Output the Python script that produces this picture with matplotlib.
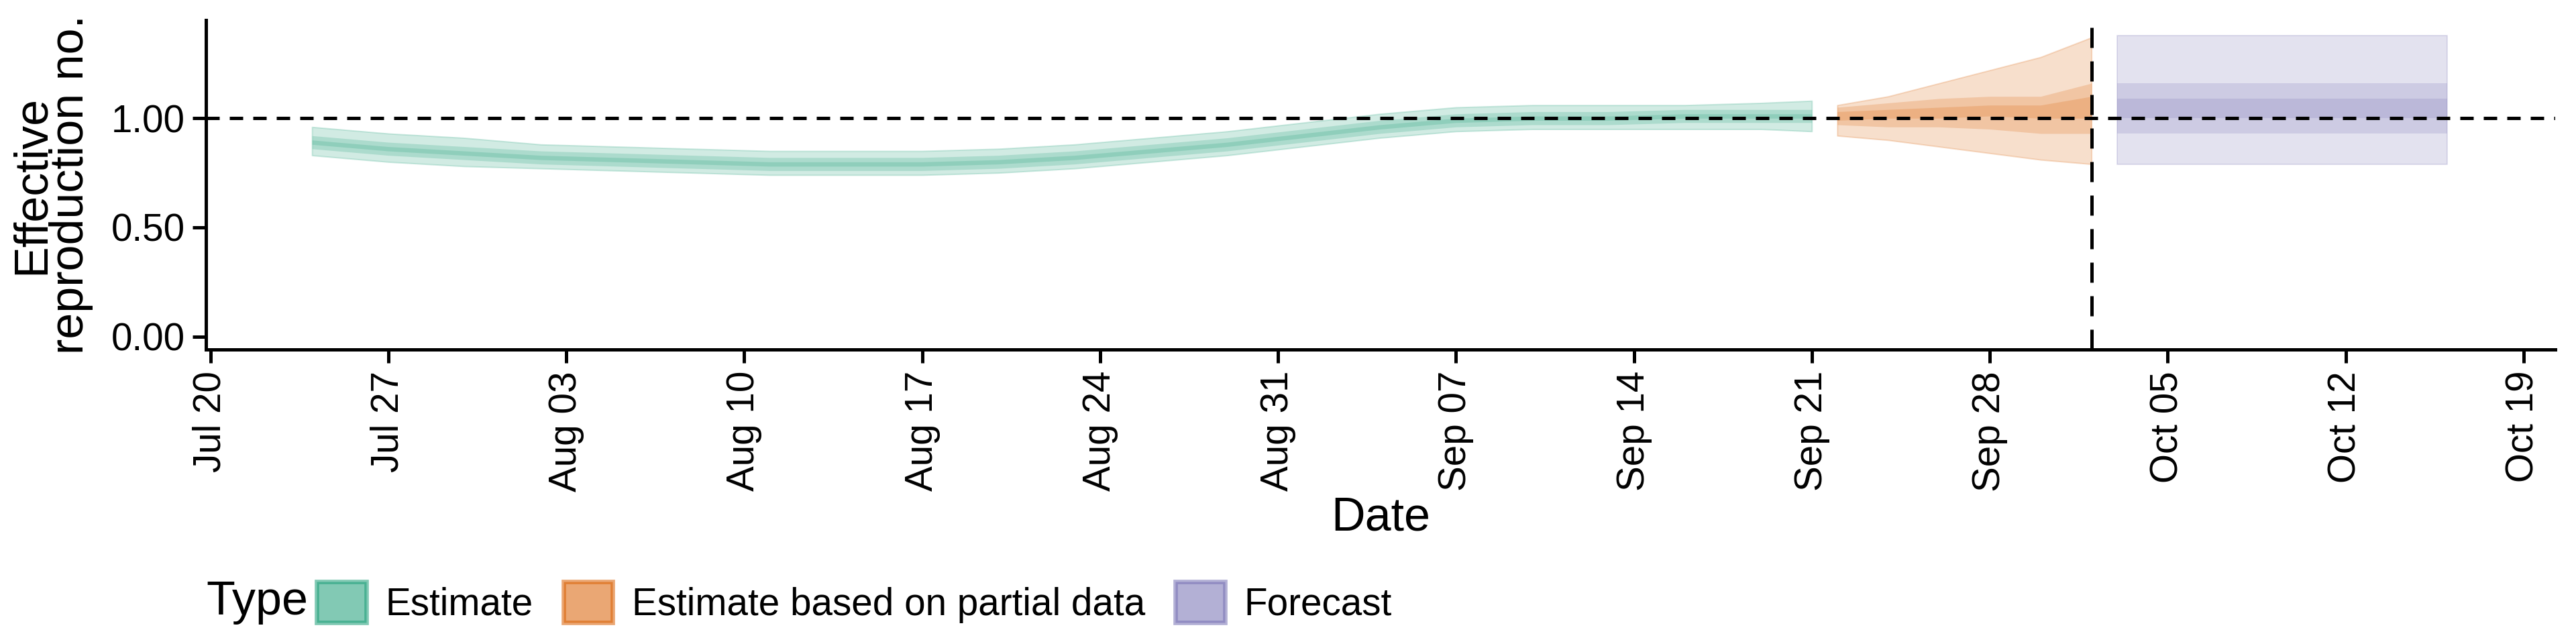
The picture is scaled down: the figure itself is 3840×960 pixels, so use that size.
import numpy as np
import pandas as pd
import matplotlib
matplotlib.use("Agg")
import matplotlib.pyplot as plt
import matplotlib.dates as mdates
from matplotlib.patches import Patch

plt.rcParams['font.family'] = ['Liberation Sans', 'DejaVu Sans']

# Estimate (green)
est_dates = pd.to_datetime(["2020-07-24", "2020-07-27", "2020-07-30", "2020-08-02", "2020-08-05",
                            "2020-08-08", "2020-08-11", "2020-08-14", "2020-08-17", "2020-08-20",
                            "2020-08-23", "2020-08-26", "2020-08-29", "2020-09-01", "2020-09-04",
                            "2020-09-07", "2020-09-10", "2020-09-13", "2020-09-16", "2020-09-19",
                            "2020-09-21"])
est_lo90 = [.83, .80, .78, .77, .76, .75, .74, .74, .74, .75, .77, .80, .83, .87, .91, .94, .95, .95, .95, .95, .94]
est_hi90 = [.96, .93, .91, .88, .87, .86, .85, .85, .85, .86, .88, .91, .94, .98, 1.02, 1.05, 1.06, 1.06, 1.06, 1.07, 1.08]
est_lo50 = [.86, .83, .81, .79, .78, .77, .76, .76, .76, .77, .79, .82, .85, .89, .93, .96, .97, .97, .98, .98, .98]
est_hi50 = [.92, .89, .87, .85, .84, .83, .82, .82, .82, .83, .85, .88, .91, .95, .99, 1.02, 1.03, 1.03, 1.04, 1.04, 1.04]
est_lo20 = [.88, .85, .83, .81, .80, .79, .78, .78, .78, .79, .81, .84, .87, .91, .95, .98, .99, .99, 1.00, 1.00, 1.00]
est_hi20 = [.90, .87, .85, .83, .82, .81, .80, .80, .80, .81, .83, .86, .89, .93, .97, 1.00, 1.01, 1.01, 1.02, 1.02, 1.02]

# Estimate based on partial data (orange)
part_dates = pd.to_datetime(["2020-09-22", "2020-09-24", "2020-09-26", "2020-09-28", "2020-09-30", "2020-10-02"])
part_lo90 = [.92, .90, .87, .84, .81, .79]
part_hi90 = [1.06, 1.10, 1.16, 1.22, 1.28, 1.37]
part_lo50 = [.97, .96, .96, .95, .93, .93]
part_hi50 = [1.05, 1.07, 1.09, 1.10, 1.10, 1.16]
part_lo20 = [.99, 1.00, 1.00, 1.01, 1.00, 1.00]
part_hi20 = [1.03, 1.04, 1.05, 1.06, 1.06, 1.10]

# Forecast (purple)
fc_dates = pd.to_datetime(["2020-10-03", "2020-10-16"])
fc_lo90 = [.79, .79]
fc_hi90 = [1.38, 1.38]
fc_lo50 = [.93, .93]
fc_hi50 = [1.16, 1.16]
fc_lo20 = [1.00, 1.00]
fc_hi20 = [1.09, 1.09]

forecast_start = pd.Timestamp("2020-10-02")
tick_dates = pd.date_range("2020-07-20", "2020-10-19", freq="7D")

green, orange, purple = "#1B9E77", "#D95F02", "#7570B3"

fig = plt.figure(figsize=(16, 4), dpi=240)
ax = fig.add_axes([0.080, 0.457, 0.912, 0.512])

def bands(d, lo90, hi90, lo50, hi50, lo20, hi20, col):
    ax.fill_between(d, lo90, hi90, color=col, alpha=0.2, lw=0.6)
    ax.fill_between(d, lo50, hi50, color=col, alpha=0.2, lw=0)
    ax.fill_between(d, lo20, hi20, color=col, alpha=0.2, lw=0)

bands(est_dates, est_lo90, est_hi90, est_lo50, est_hi50, est_lo20, est_hi20, green)
bands(part_dates, part_lo90, part_hi90, part_lo50, part_hi50, part_lo20, part_hi20, orange)
bands(fc_dates, fc_lo90, fc_hi90, fc_lo50, fc_hi50, fc_lo20, fc_hi20, purple)

ax.axhline(1.0, color="black", ls=(0, (4, 3)), lw=1.5)
ax.axvline(forecast_start, color="black", ls=(0, (6, 4)), lw=1.5)

ax.set_xlim(pd.Timestamp("2020-07-19 20:00"), pd.Timestamp("2020-10-20 06:00"))
ax.set_ylim(-0.06, 1.45)
ax.set_yticks([0, 0.5, 1.0])
ax.set_yticklabels(["0.00", "0.50", "1.00"])
ax.set_xticks(tick_dates)
ax.xaxis.set_major_formatter(mdates.DateFormatter("%b %d"))
ax.tick_params(axis="x", rotation=90)
ax.tick_params(labelsize=17, width=1.5, length=6, direction="out")
for s in ["top", "right"]:
    ax.spines[s].set_visible(False)
for s in ["left", "bottom"]:
    ax.spines[s].set_linewidth(1.5)
ax.set_xlabel("Date", fontsize=21, labelpad=2)
ax.set_ylabel("Effective\nreproduction no.", fontsize=21, linespacing=0.85, labelpad=8)

fig.text(0.080, 0.065, "Type", fontsize=21, va="center", ha="left")
handles = [Patch(facecolor=c, edgecolor=c, alpha=0.55, lw=2) for c in (green, orange, purple)]
fig.legend(handles, ["Estimate", "Estimate based on partial data", "Forecast"],
           ncol=3, loc="center left", bbox_to_anchor=(0.117, 0.065),
           frameon=False, fontsize=17, handlelength=1.3, handleheight=1.3,
           columnspacing=0.8, handletextpad=0.5, borderaxespad=0)
fig.savefig("out.png", dpi=240)
